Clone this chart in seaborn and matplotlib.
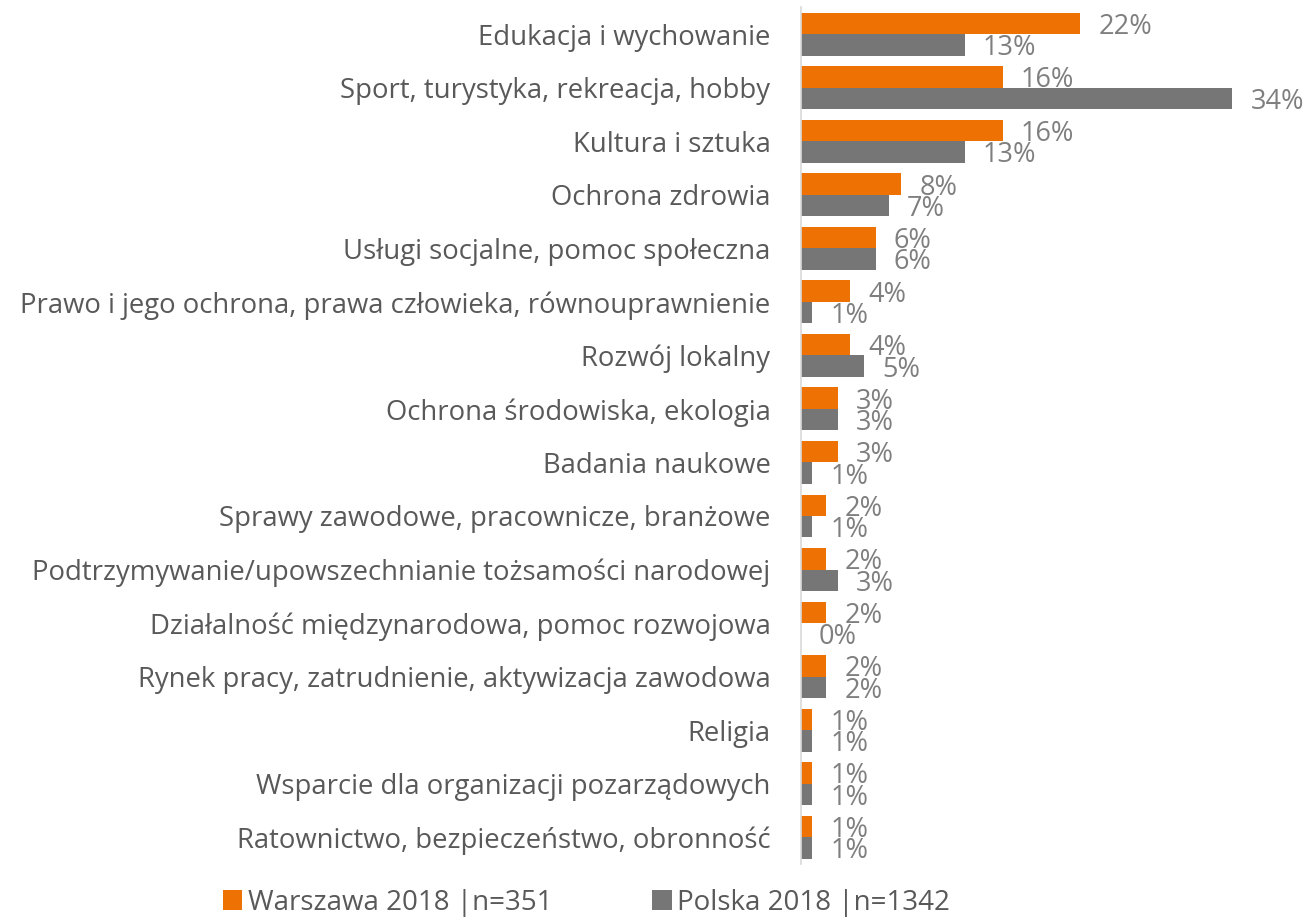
import pandas as pd
import matplotlib
matplotlib.use('Agg')
import matplotlib.pyplot as plt
import seaborn as sns

# data (shares in %)
categories = [
    'Edukacja i wychowanie',
    'Sport, turystyka, rekreacja, hobby',
    'Kultura i sztuka',
    'Ochrona zdrowia',
    'Usługi socjalne, pomoc społeczna',
    'Prawo i jego ochrona, prawa człowieka, równouprawnienie',
    'Rozwój lokalny',
    'Ochrona środowiska, ekologia',
    'Badania naukowe',
    'Sprawy zawodowe, pracownicze, branżowe',
    'Podtrzymywanie/upowszechnianie tożsamości narodowej',
    'Działalność międzynarodowa, pomoc rozwojowa',
    'Rynek pracy, zatrudnienie, aktywizacja zawodowa',
    'Religia',
    'Wsparcie dla organizacji pozarządowych',
    'Ratownictwo, bezpieczeństwo, obronność',
]
warszawa = [22.0, 15.9, 15.9, 7.9, 5.9, 3.9, 3.9, 2.9, 2.9, 2.0, 2.0, 2.0, 2.0, 0.9, 0.9, 0.9]
polska = [12.9, 34.0, 12.9, 6.9, 5.9, 0.9, 5.0, 2.9, 0.9, 0.9, 2.9, 0.0, 2.0, 0.9, 0.9, 0.9]
series = ['Warszawa 2018 |n=351', 'Polska 2018 |n=1342']

df = pd.DataFrame({
    'kategoria': categories * 2,
    'wartosc': warszawa + polska,
    'seria': [series[0]] * len(categories) + [series[1]] * len(categories),
})

sns.set_style('white')
plt.rcParams['font.family'] = ['Open Sans', 'DejaVu Sans']

fig = plt.figure(figsize=(13.06, 9.24), dpi=100)
ax = fig.add_axes([0.6133, 0.065, 0.34, 0.927])

sns.barplot(data=df, y='kategoria', x='wartosc', hue='seria', orient='h',
            palette=['#EE7203', '#767676'], saturation=1, width=0.8,
            linewidth=0, ax=ax)

for cont, vals in zip(ax.containers, [warszawa, polska]):
    anns = ax.bar_label(cont, labels=[f'{v:.0f}%' for v in vals], padding=13,
                        fontsize=19.5, color='#7F7F7F')
    # labels sit a little below the bar centre in the original
    for a in anns:
        a.xyann = (a.xyann[0], -2.5)

ax.set_xlim(0, 35)
ax.set_xlabel('')
ax.set_ylabel('')
ax.set_xticks([])
ax.tick_params(axis='y', length=0, labelsize=19.8, labelcolor='#595959', pad=22)
for s in ['top', 'right', 'bottom']:
    ax.spines[s].set_visible(False)
ax.spines['left'].set_color('#D9D9D9')
ax.spines['left'].set_linewidth(1.2)

handles, labels = ax.get_legend_handles_labels()
ax.get_legend().remove()
fig.legend(handles, labels, loc='center', bbox_to_anchor=(0.449, 0.023), ncol=2,
           frameon=False, fontsize=20, labelcolor='#595959',
           handlelength=0.7, handleheight=0.7, handletextpad=0.2,
           columnspacing=3.6)

fig.savefig('out.png', dpi=100)
